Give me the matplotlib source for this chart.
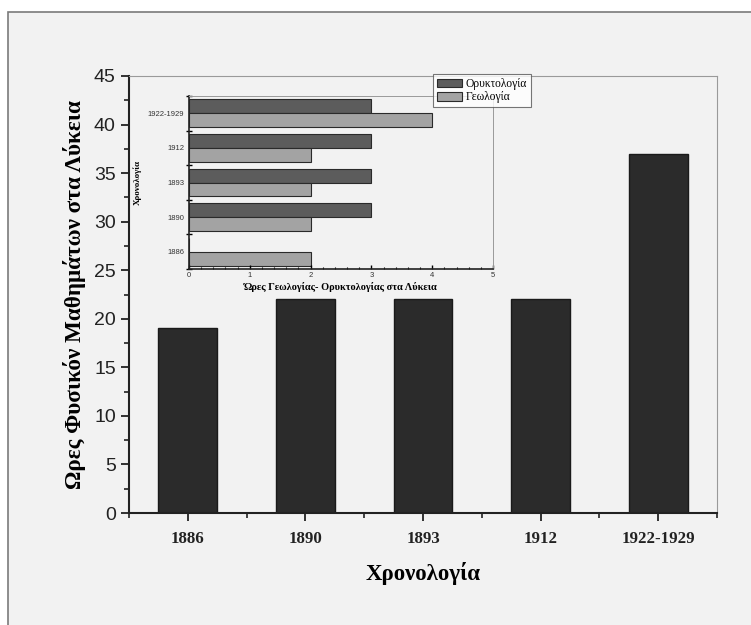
import numpy as np
import matplotlib.pyplot as plt
from matplotlib.patches import Rectangle
from matplotlib.ticker import MultipleLocator, FixedLocator

# === Data ===
years = ["1886", "1890", "1893", "1912", "1922-1929"]
physics_hours = [19, 22, 22, 22, 37]
mineralogy_hours = [0, 3, 3, 3, 3]   # Ορυκτολογία
geology_hours = [2, 2, 2, 2, 4]      # Γεωλογία

serif = "Liberation Serif"
sans = "Liberation Sans"
bg = "#f2f2f2"

fig = plt.figure(figsize=(7.51, 6.25), dpi=100)
fig.patch.set_facecolor("white")
W, H = 751, 625

# light gray panel with border on top/left
fig.patches.append(Rectangle((8 / W, -0.1), 1.2, 1 - 12 / H + 0.1, transform=fig.transFigure,
                             facecolor=bg, edgecolor="#7a7a7a", linewidth=1.2, zorder=-5))

def px(x0, y0, x1, y1):
    return [x0 / W, 1 - y1 / H, (x1 - x0) / W, (y1 - y0) / H]

# === Main chart ===
ax = fig.add_axes(px(129, 76, 717, 513))
ax.set_facecolor("none")
x = np.arange(len(years))
ax.bar(x, physics_hours, width=0.5, color="#2b2b2b", edgecolor="#1a1a1a", zorder=2)
ax.set_xlim(-0.5, 4.5)
ax.set_ylim(0, 45)
ax.set_xticks(x)
ax.set_xticklabels(years, fontfamily=serif, fontweight="bold", fontsize=12.2)
ax.xaxis.set_minor_locator(FixedLocator(np.arange(-0.5, 5, 1)))
ax.yaxis.set_major_locator(MultipleLocator(5))
ax.yaxis.set_minor_locator(MultipleLocator(2.5))
for lab in ax.get_yticklabels():
    lab.set_fontfamily(sans)
    lab.set_fontsize(14)
ax.tick_params(axis="both", which="major", direction="out", length=6, width=1.3, colors="#222222")
ax.tick_params(axis="both", which="minor", direction="out", length=3.5, width=1.2, colors="#222222")
ax.tick_params(axis="x", which="major", pad=7)
for s in ["left", "bottom"]:
    ax.spines[s].set_linewidth(1.5)
    ax.spines[s].set_color("#222222")
for s in ["top", "right"]:
    ax.spines[s].set_linewidth(0.8)
    ax.spines[s].set_color("#9a9a9a")
ax.set_xlabel("Χρονολογία", fontfamily=serif, fontweight="bold", fontsize=16.5, labelpad=11)
ax.set_ylabel("Ωρες Φυσικόν Μαθημάτων στα Λύκεια", fontfamily=serif, fontweight="bold",
              fontsize=16.7, labelpad=6)

# === Inset chart ===
ins = fig.add_axes(px(189, 96, 493, 269))
ins.set_facecolor("none")
y = np.arange(len(years))
ins.barh(y, mineralogy_hours, height=0.4, align="edge", color="#5c5c5c",
         edgecolor="#2a2a2a", linewidth=0.8, label="Ορυκτολογία")
ins.barh(y, geology_hours, height=-0.4, align="edge", color="#a3a3a3",
         edgecolor="#2a2a2a", linewidth=0.8, label="Γεωλογία")
ins.set_xlim(0, 5)
ins.set_ylim(-0.5, 4.5)
ins.set_yticks(y)
ins.set_yticklabels(years, fontsize=5.5, fontfamily=sans, color="#333333")
ins.yaxis.set_minor_locator(FixedLocator(np.arange(-0.5, 5, 1)))
ins.xaxis.set_major_locator(MultipleLocator(1))
ins.xaxis.set_minor_locator(MultipleLocator(0.2))
for lab in ins.get_xticklabels():
    lab.set_fontsize(5.5)
    lab.set_fontfamily(sans)
    lab.set_color("#333333")
ins.tick_params(axis="y", which="major", length=0)
ins.tick_params(axis="y", which="minor", direction="inout", length=4, width=1)
ins.tick_params(axis="x", which="major", direction="in", length=3, width=1, pad=2)
ins.tick_params(axis="x", which="minor", direction="in", length=1.5, width=0.8)
for s in ["left", "bottom"]:
    ins.spines[s].set_linewidth(1.2)
    ins.spines[s].set_color("#222222")
for s in ["top", "right"]:
    ins.spines[s].set_linewidth(0.7)
    ins.spines[s].set_color("#9a9a9a")
ins.set_xlabel("Ώρες Γεωλογίας- Ορυκτολογίας στα Λύκεια", fontfamily=serif,
               fontweight="bold", fontsize=7.5, labelpad=2)
ins.set_ylabel("Χρονολογία", fontfamily=serif, fontweight="bold", fontsize=6.5, labelpad=4)

leg = ins.legend(loc="upper left", bbox_to_anchor=(433 / W, 1 - 74 / H), bbox_transform=fig.transFigure,
                 prop={"family": serif, "size": 8.3}, frameon=True, fancybox=False,
                 handlelength=2.2, handleheight=0.8, handletextpad=0.3, borderpad=0.35,
                 labelspacing=0.1, borderaxespad=0)
leg.get_frame().set_edgecolor("#555555")
leg.get_frame().set_facecolor("white")
leg.get_frame().set_linewidth(0.8)

plt.savefig("out.png", dpi=100, facecolor=fig.get_facecolor())
